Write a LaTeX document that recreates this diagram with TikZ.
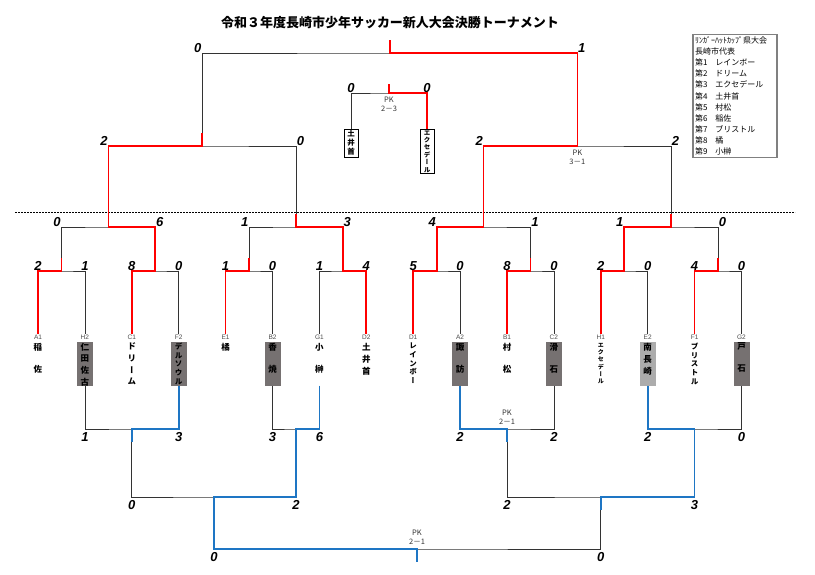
\documentclass[tikz,border=0pt]{standalone}
\usepackage{fontspec}
\setmainfont{Liberation Sans}
\newfontfamily\jp{Noto Sans CJK JP}
\newfontfamily\jpv[RawFeature=+vert]{Noto Sans CJK JP}
\usetikzlibrary{calc}
\usetikzlibrary{positioning}
\definecolor{winred}{RGB}{255, 0, 0}
\definecolor{winblue}{RGB}{30, 118, 196}
\definecolor{boxdark}{RGB}{118, 113, 113}
\definecolor{boxlight}{RGB}{172, 172, 172}
\definecolor{framegray}{RGB}{128, 128, 128}

\tikzset{
  bline/.style   = {black!80, line width=0.8pt},
  rline/.style   = {winred, line width=1.7pt},
  uline/.style   = {winblue, line width=1.7pt},
  score/.style   = {font=\bfseries\itshape\fontsize{13}{13}\selectfont, inner sep=0.6pt},
  pk/.style      = {font=\jp\fontsize{7.5}{9}\selectfont, align=center, text=black!80, inner sep=1pt},
  code/.style    = {font=\fontsize{6.5}{7}\selectfont, text=black!70, inner sep=0.5pt, anchor=base},
  namebox/.style = {minimum width=16pt, minimum height=44pt, inner sep=0pt},
  tname/.style   = {align=center, inner sep=0pt, anchor=north},
  pbox/.style    = {draw=black, fill=white, line width=0.6pt, align=center, inner sep=1.2pt,
                    minimum width=14pt, anchor=north}
}

\begin{document}
\begin{tikzpicture}[x=1pt, y=-1pt]
  \useasboundingbox (0,0) rectangle (815,575);
  \node[font=\jp\bfseries\fontsize{13}{15}\selectfont] (title) at (390,23)
       {令和３年度長崎市少年サッカー新人大会決勝トーナメント};
  \node[draw=framegray, line width=1.2pt, text width=80pt, align=left, inner sep=2pt,
        font=\jp\fontsize{8}{11.1}\selectfont] (legend) at (735,96)
       {ﾘﾝｶﾞｰﾊｯﾄｶｯﾌﾟ県大会\\長崎市代表\\第1　レインボー\\第2　ドリーム\\第3　エクセデール\\第4　土井首\\第5　村松\\第6　稲佐\\第7　ブリストル\\第8　橘\\第9　小榊};
  \coordinate (dl) at (15,212);
  \coordinate (dr) at (795,212);
  \draw[black, line width=0.7pt, dash pattern=on 2pt off 1pt] (dl) -- (dr);

  % teams
  \foreach \i/\cd/\nm/\sz/\ld/\bx in {0/A1/稲\\佐/8.5/22/none, 1/H2/仁\\田\\佐\\古/8.5/11.7/boxdark,
      2/C1/ド\\リ\\ー\\ム/8.5/11.7/none, 3/F2/デ\\ル\\ソ\\ウ\\ル/7.5/8.7/boxdark,
      4/E1/橘/8.5/11/none, 5/B2/香\\焼/8.5/22/boxdark, 6/G1/小\\榊/8.5/22/none,
      7/D2/土\\井\\首/8.5/12/none, 8/D1/レ\\イ\\ン\\ボ\\ー/7.5/8.7/none,
      9/A2/諏\\訪/8.5/22/boxdark, 10/B1/村\\松/8.5/22/none, 11/C2/滑\\石/8.5/22/boxdark,
      12/H1/エ\\ク\\セ\\デ\\ー\\ル/6/7.3/none, 13/E2/南\\長\\崎/8.5/12/boxlight,
      14/F1/ブ\\リ\\ス\\ト\\ル/7.5/8.7/none, 15/G2/戸\\石/8.5/22/boxdark}{
    \coordinate (t\i) at (38+46.9*\i, 271);
    \node[code] (c\i) at (38+46.9*\i, 339.5) {\cd};
    \node[namebox, fill=\bx] (n\i) at (38+46.9*\i, 363.5) {};
    \node[tname, font=\jpv\bfseries\fontsize{\sz}{\ld}\selectfont] (w\i) at ($(n\i.north)+(0,1.5)$) {\nm};
  }

  % upper bracket
  \foreach \m/\l/\r in {1/0/1, 2/2/3, 3/4/5, 4/6/7, 5/8/9, 6/10/11, 7/12/13, 8/14/15}{
    \coordinate (m\m) at ($(t\l)!.5!(t\r)$);
    \draw[bline] (c\l.north) |- (m\m) -| (c\r.north);
  }
  \foreach \q/\l/\r in {1/1/2, 2/3/4, 3/5/6, 4/7/8}{
    \coordinate (q\q) at ($(m\l)!.5!(m\r)+(0,-44)$);
    \draw[bline] (m\l) |- (q\q) -| (m\r);
  }
  \coordinate (s1) at ($(q1)!.5!(q2)+(0,-81)$);
  \coordinate (s2) at ($(q3)!.5!(q4)+(0,-81)$);
  \coordinate (fin) at ($(s1)!.5!(s2)+(0,-93)$);
  \draw[bline] (q1) |- (s1) -| (q2);
  \draw[bline] (q3) |- (s2) -| (q4);
  \draw[bline] (s1) |- (fin) -| (s2);
  \foreach \a/\b in {c0.north/m1, c2.north/m2, c4.north/m3, c7.north/m4, c8.north/m5, c10.north/m6,
                     c12.north/m7, c14.north/m8, m2/q1, m4/q2, m5/q3, m7/q4, q1/s1, q3/s2, s2/fin}
    \draw[rline] (\a) |- (\b) -- ++(0,-13);

  % third place
  \node[pbox, font=\jpv\bfseries\fontsize{7.5}{9}\selectfont] (p1) at (351,129) {土\\井\\首};
  \node[pbox, font=\jpv\bfseries\fontsize{6.5}{7.4}\selectfont] (p2) at (427,129) {エ\\ク\\セ\\デ\\ー\\ル};
  \coordinate (p3) at ($(p1.north)!.5!(p2.north)+(0,-36)$);
  \draw[bline] (p1.north) |- (p3) -| (p2.north);
  \draw[rline] (p2.north) |- (p3) -- ++(0,-9);

  % lower bracket
  \foreach \l/\a/\b in {1/1/3, 2/5/6, 3/9/11, 4/13/15}{
    \coordinate (l\l) at ($(t\a)!.5!(t\b)+(0,158)$);
    \draw[bline] (n\a.south) |- (l\l) -| (n\b.south);
  }
  \coordinate (k1) at ($(l1)!.5!(l2)+(0,68)$);
  \coordinate (k2) at ($(l3)!.5!(l4)+(0,68)$);
  \coordinate (g) at ($(k1)!.525!(k2)+(0,52)$);
  \draw[bline] (l1) |- (k1) -| (l2);
  \draw[bline] (l3) |- (k2) -| (l4);
  \draw[bline] (k1) |- (g) -| (k2);
  \foreach \a/\b in {n3.south/l1, n6.south/l2, n9.south/l3, n13.south/l4, l2/k1, l4/k2, k1/g}
    \draw[uline] (\a) |- (\b) -- ++(0,13);

  % scores
  \foreach \i/\s in {0/2, 1/1, 2/8, 3/0, 4/1, 5/0, 6/1, 7/4, 8/5, 9/0, 10/8, 11/0, 12/2, 13/0, 14/4, 15/0}
    \node[score, anchor=south] (r\i) at (t\i) {\s};
  \foreach \a/\b/\s in {m1/q1/0, m3/q2/1, m5/q3/4, m7/q4/1, q1/s1/2, q3/s2/2, s1/fin/0}
    \node[score, anchor=south east] (sl\a) at (\a |- \b) {\s};
  \foreach \a/\b/\s in {m2/q1/6, m4/q2/3, m6/q3/1, m8/q4/0, q2/s1/0, q4/s2/2, s2/fin/1}
    \node[score, anchor=south west] (sr\a) at (\a |- \b) {\s};
  \node[score, anchor=south] (sp1) at (p1 |- p3) {0};
  \node[score, anchor=south] (sp2) at (p2 |- p3) {0};
  \foreach \a/\b/\s in {n1/l1/1, n3/l1/3, n5/l2/3, n6/l2/6, n9/l3/2, n11/l3/2, n13/l4/2, n15/l4/0,
                        l1/k1/0, l2/k1/2, l3/k2/2, l4/k2/3, k1/g/0, k2/g/0}
    \node[score, anchor=north, yshift=-3pt] (sd\a) at (\a |- \b) {\s};

  % penalty kicks
  \node[pk, anchor=north] (pk1) at ($(p3)+(0,3)$) {PK\\2－3};
  \node[pk, anchor=north] (pk2) at ($(s2)+(0,3)$) {PK\\3－1};
  \node[pk, anchor=south] (pk3) at ($(l3)+(0,-3)$) {PK\\2－1};
  \node[pk, anchor=south] (pk4) at ($(g)+(0,-3)$) {PK\\2－1};
\end{tikzpicture}
\end{document}
